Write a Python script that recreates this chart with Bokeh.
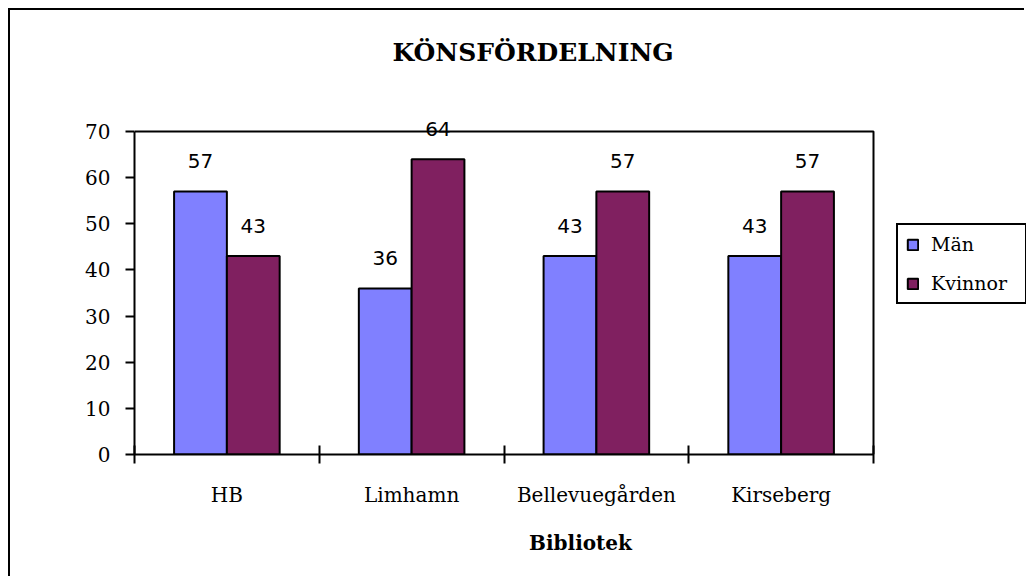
from bokeh.plotting import figure
from bokeh.models import Range1d, FixedTicker, Legend, LegendItem, ColumnDataSource, Label
from bokeh.core.properties import value
from bokeh.embed import file_html
from bokeh.resources import INLINE

# ---- data ----
categories = ["HB", "Limhamn", "Bellevuegården", "Kirseberg"]
series_names = ["Män", "Kvinnor"]
man = [57, 36, 43, 43]
kvinnor = [43, 64, 57, 57]
y_ticks = [0, 10, 20, 30, 40, 50, 60, 70]
title_text = "KÖNSFÖRDELNING"
x_title = "Bibliotek"

# ---- layout (pixels) ----
colors = ["#8080FF", "#802060"]
SERIF = "DejaVu Serif"
SANS = "DejaVu Sans"
n = len(categories)
y_max = y_ticks[-1]
bar_w = 1 / 3.5
centers = [i + 0.5 for i in range(n)]

W, H = 1016, 568
ML, MB = 124, 124          # left / bottom border of canvas around the frame
AREA_W, AREA_H = 739, 323  # size of the drawn plot area (0..n, 0..y_max)
px_x = AREA_W / n
px_y = AREA_H / y_max
frame_w = W - ML
frame_h = H - MB

p = figure(width=W, height=H, output_backend="svg", toolbar_location=None,
           title=None,
           x_range=Range1d(0, frame_w / px_x), y_range=Range1d(0, frame_h / px_y),
           min_border_left=ML, min_border_top=0,
           min_border_right=0, min_border_bottom=MB)
p.margin = (8, 0, 0, 8)
p.styles = {"border-left": "2px solid black", "border-top": "2px solid black",
            "border-right": "0", "border-bottom": "0"}

p.xgrid.visible = False
p.ygrid.visible = False
p.outline_line_color = None
p.background_fill_color = "white"
p.border_fill_color = "white"

# plot-area box (top and right edges)
p.line(x=[0, n, n], y=[y_max, y_max, 0], line_color="black", line_width=2)

# bars
src_m = ColumnDataSource(dict(x=[c - bar_w / 2 for c in centers], top=man))
src_k = ColumnDataSource(dict(x=[c + bar_w / 2 for c in centers], top=kvinnor))
r_m = p.vbar(x="x", top="top", width=bar_w, bottom=0, source=src_m,
             fill_color=colors[0], line_color="black", line_width=2)
r_k = p.vbar(x="x", top="top", width=bar_w, bottom=0, source=src_k,
             fill_color=colors[1], line_color="black", line_width=2)

# data labels
lab_m = ColumnDataSource(dict(x=[c - bar_w / 2 for c in centers], y=man, t=[str(v) for v in man]))
lab_k = ColumnDataSource(dict(x=[c + bar_w / 2 for c in centers], y=kvinnor, t=[str(v) for v in kvinnor]))
for s in (lab_m, lab_k):
    p.text(x="x", y="y", text="t", source=s, y_offset=-30,
           text_align="center", text_baseline="middle",
           text_font=value(SANS), text_font_size=value("20px"), text_color="black")

# chart title (placed above the plot area)
title = Label(x=(392 - 134) / px_x, y=(454 - 52) / px_y, text=title_text,
              text_align="left", text_baseline="middle",
              text_font=SERIF, text_font_style="bold", text_font_size="25px",
              text_color="black")
p.add_layout(title)

# x axis
xa = p.xaxis[0]
xa.bounds = (0, n)
xa.ticker = FixedTicker(ticks=centers, minor_ticks=list(range(n + 1)))
xa.major_label_overrides = {c: categories[i] for i, c in enumerate(centers)}
xa.major_tick_in = 0
xa.major_tick_out = 0
xa.minor_tick_in = 9
xa.minor_tick_out = 9
xa.minor_tick_line_color = "black"
xa.minor_tick_line_width = 2
xa.axis_line_color = "black"
xa.axis_line_width = 2
xa.major_label_standoff = 19
xa.major_label_text_font = SERIF
xa.major_label_text_font_size = "20px"
xa.major_label_text_color = "black"
xa.axis_label = x_title
xa.axis_label_text_font = SERIF
xa.axis_label_text_font_style = "bold"
xa.axis_label_text_font_size = "20px"
xa.axis_label_text_color = "black"
xa.axis_label_standoff = 21

# y axis
ya = p.yaxis[0]
ya.bounds = (0, y_max)
ya.ticker = FixedTicker(ticks=y_ticks)
ya.major_tick_in = 0
ya.major_tick_out = 9
ya.minor_tick_in = 0
ya.minor_tick_out = 0
ya.major_tick_line_color = "black"
ya.major_tick_line_width = 2
ya.axis_line_color = "black"
ya.axis_line_width = 2
ya.major_label_standoff = 15
ya.major_label_text_font = SERIF
ya.major_label_text_font_size = "20px"
ya.major_label_text_color = "black"

# legend
legend = Legend(items=[LegendItem(label=series_names[0], renderers=[r_m]),
                       LegendItem(label=series_names[1], renderers=[r_k])],
                location=(762, 150), orientation="vertical",
                border_line_color="black", border_line_width=2, border_line_alpha=1,
                background_fill_color="white", background_fill_alpha=1,
                label_text_font=SERIF, label_text_font_size="19px",
                label_text_color="black",
                glyph_width=13, glyph_height=13, label_standoff=12,
                label_height=20, label_width=86, spacing=17, padding=8,
                margin=0)
p.add_layout(legend, "center")

open("out.html", "w").write(file_html(p, INLINE))
